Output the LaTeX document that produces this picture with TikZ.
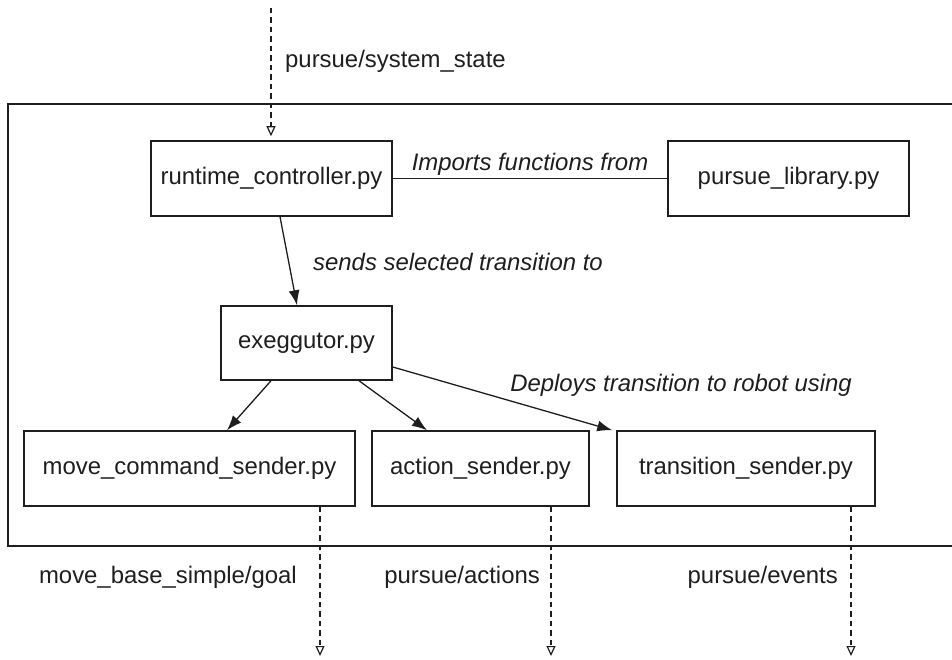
\documentclass[tikz,border=0pt]{standalone}
\usepackage{fontspec}
\setmainfont{Liberation Sans}
\usetikzlibrary{arrows.meta}
\definecolor{ink}{HTML}{1E1E1E}

\begin{document}
\begin{tikzpicture}[x=1pt, y=-1pt,
  every node/.style={font=\fontsize{23.9}{28}\selectfont, inner sep=0pt, text=ink},
  module/.style={draw=ink, line width=1.5pt, rectangle, minimum height=75pt},
  flow/.style={draw=ink, line width=1.3pt, -{Latex[length=15pt, width=11pt]}},
  link/.style={draw=ink, line width=1.3pt},
  topic/.style={draw=ink, line width=1.3pt, dash pattern=on 5.5pt off 4pt,
                -{Triangle[open, length=10pt, width=9pt, line width=1.2pt]}},
  note/.style={font=\fontsize{23.9}{28}\selectfont\itshape},
]
\useasboundingbox (0,0) rectangle (952,660);

% enclosing package frame (runs off the right edge)
\begin{scope}
  \clip (0,0) rectangle (952,660);
  \draw[ink, line width=1.5pt] (970,104) -- (8,104) -- (8,546) -- (970,546);
\end{scope}

% modules
\node[module, minimum width=241pt] (rc)    at (271.5,178.5) {runtime\_controller.py};
\node[module, minimum width=241pt] (lib)   at (788.5,178.5) {pursue\_library.py};
\node[module, minimum width=171pt, minimum height=74pt] (ex) at (306.5,343) {exeggutor.py};
\node[module, minimum width=331pt] (move)  at (189.5,468.5) {move\_command\_sender.py};
\node[module, minimum width=217pt] (act)   at (480.5,468.5) {action\_sender.py};
\node[module, minimum width=258pt] (trans) at (746,468.5) {transition\_sender.py};

% import relation
\draw[link] (rc.east) -- (lib.west);
\node[note] (imp) at (530,164) {Imports functions from};

% control flow
\draw[flow] ([xshift=8.5pt]rc.south) -- ([xshift=-9.5pt]ex.north);
\node[note, anchor=west] (sends) at (313,262) {sends selected transition to};

\draw[flow] ([xshift=-35.5pt]ex.south) -- ([xshift=37.5pt]move.north);
\draw[flow] ([xshift=52.5pt]ex.south) -- ([xshift=-53.5pt]act.north);
\draw[flow] ([yshift=-24pt]ex.east) -- ([xshift=-4pt]trans.north west);
\node[note] (deploy) at (681,385) {Deploys transition to robot using};

% incoming topic
\coordinate (src) at (271,8);
\draw[topic, shorten >=4pt] (src) -- ([xshift=-0.5pt]rc.north);
\node[anchor=west] (sys) at (285,61) {pursue/system\_state};

% outgoing topics
\coordinate (outMove)  at (320,656);
\coordinate (outAct)   at (551,656);
\coordinate (outTrans) at (851,656);
\draw[topic] ([xshift=130.5pt]move.south) -- (outMove);
\draw[topic] ([xshift=70.5pt]act.south) -- (outAct);
\draw[topic] ([xshift=105pt]trans.south) -- (outTrans);
\node[anchor=east] (goal)   at (297,577) {move\_base\_simple/goal};
\node[anchor=east] (acts)   at (540,577) {pursue/actions};
\node[anchor=east] (events) at (838,577) {pursue/events};
\end{tikzpicture}
\end{document}
